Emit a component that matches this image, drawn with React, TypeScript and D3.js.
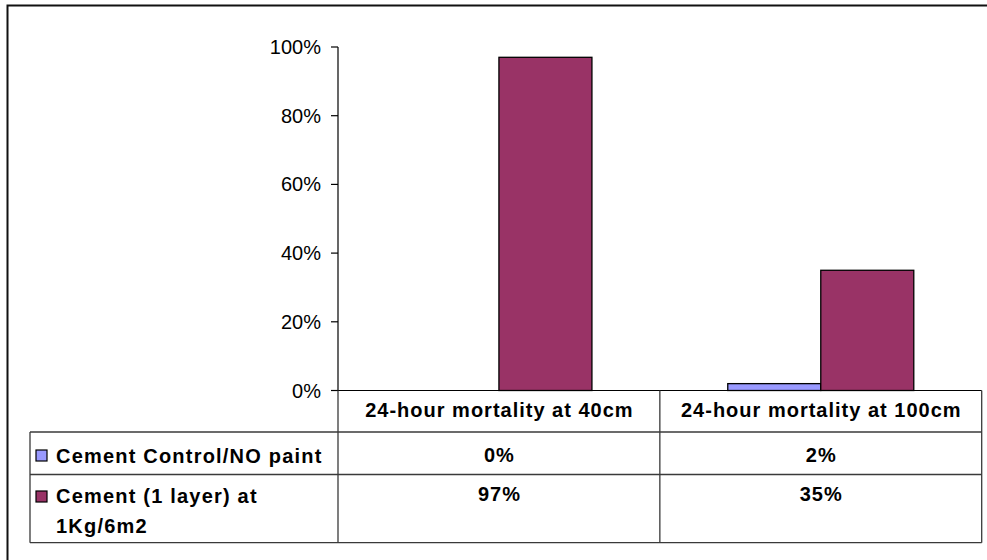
import React from "react";
import * as d3 from "d3";

const categories = ["24-hour mortality at 40cm", "24-hour mortality at 100cm"];
const seriesNames = ["Cement Control/NO paint", "Cement (1 layer) at 1Kg/6m2"];
const seriesLabelLines = [["Cement Control/NO paint"], ["Cement (1 layer) at", "1Kg/6m2"]];
const controlValues = [0, 0.02];
const cementValues = [0.97, 0.35];
const yTicks = [0, 0.2, 0.4, 0.6, 0.8, 1.0];
const seriesColors = ["#9999FF", "#993366"];

const W = 987;
const H = 560;
const FONT = "Arial, 'Liberation Sans', Helvetica, sans-serif";

export default function App() {
  const plotLeft = 338;
  const plotRight = 981.7;
  const y0 = 390.5;
  const y1 = 47;
  const tableLeft = 30;
  const headerBottom = 432;
  const row1Bottom = 474.5;
  const tableBottom = 542.7;

  const x = d3.scaleBand<string>().domain(categories).range([plotLeft, plotRight]).paddingInner(0).paddingOuter(0);
  const bw = x.bandwidth();
  const barW = bw * 0.289;
  const gap = bw - 2 * barW;
  const xs = d3.scaleBand<string>().domain(seriesNames).range([gap / 2, bw - gap / 2]);
  const y = d3.scaleLinear().domain([0, 1]).range([y0, y1]);
  const pct = d3.format(".0%");

  const allValues = [controlValues, cementValues];
  const lineColor = "#3a3a3a";
  const rowBaselines = [[462.5], [503, 533]];
  const valueBaselines = [461.5, 501];
  const squareTops = [450, 491];

  return (
    <div style={{ position: "fixed", left: 0, top: 0 }}>
      <svg width={W} height={H} style={{ display: "block", background: "#fff" }} fontFamily={FONT}>
        <rect x={0} y={0} width={W} height={H} fill="#fff" />
        {/* outer chart border */}
        <rect x={7.5} y={5.5} width={1000} height={600} fill="none" stroke="#111" strokeWidth={2} />

        {/* y axis */}
        <line x1={plotLeft} x2={plotLeft} y1={y1} y2={y0} stroke="#000" strokeWidth={1.2} />
        {yTicks.map((t) => (
          <g key={t}>
            <line x1={plotLeft - 7} x2={plotLeft} y1={y(t)} y2={y(t)} stroke="#000" strokeWidth={1.2} />
            <text x={321} y={y(t) + 7} textAnchor="end" fontSize={20} fill="#000">
              {pct(t)}
            </text>
          </g>
        ))}

        {/* bars */}
        {categories.map((c, ci) => (
          <g key={c} transform={`translate(${x(c)},0)`}>
            {seriesNames.map((s, si) => {
              const v = allValues[si][ci];
              if (v <= 0) return null;
              return (
                <rect
                  key={s}
                  x={xs(s)}
                  y={y(v)}
                  width={xs.bandwidth()}
                  height={y0 - y(v)}
                  fill={seriesColors[si]}
                  stroke="#000"
                  strokeWidth={1.3}
                />
              );
            })}
          </g>
        ))}

        {/* x axis line / table top */}
        <line x1={plotLeft - 7} x2={plotRight} y1={y0} y2={y0} stroke="#000" strokeWidth={1.2} />

        {/* table grid */}
        <g stroke={lineColor} strokeWidth={1.3}>
          <line x1={plotLeft} x2={plotLeft} y1={y0} y2={tableBottom} />
          {categories.map((c) => (
            <line key={c} x1={(x(c) as number) + bw} x2={(x(c) as number) + bw} y1={y0} y2={tableBottom} />
          ))}
          <line x1={tableLeft} x2={tableLeft} y1={headerBottom} y2={tableBottom} />
          <line x1={tableLeft} x2={plotRight} y1={headerBottom} y2={headerBottom} />
          <line x1={tableLeft} x2={plotRight} y1={row1Bottom} y2={row1Bottom} />
          <line x1={tableLeft} x2={plotRight} y1={tableBottom} y2={tableBottom} />
        </g>

        {/* header labels */}
        {categories.map((c) => (
          <text
            key={c}
            x={(x(c) as number) + bw / 2 + 0.5}
            y={417}
            textAnchor="middle"
            fontSize={20}
            fontWeight="bold"
            letterSpacing={1}
            fill="#000"
          >
            {c}
          </text>
        ))}

        {/* legend rows */}
        {seriesNames.map((s, si) => (
          <g key={s}>
            <rect x={36} y={squareTops[si]} width={11} height={11} fill={seriesColors[si]} stroke="#000" strokeWidth={1.2} />
            {seriesLabelLines[si].map((ln, li) => (
              <text key={li} x={56} y={rowBaselines[si][li]} fontSize={20} fontWeight="bold" letterSpacing={1.2} fill="#000">
                {ln}
              </text>
            ))}
            {categories.map((c, ci) => (
              <text
                key={c}
                x={(x(c) as number) + bw / 2 + 0.5}
                y={valueBaselines[si]}
                textAnchor="middle"
                fontSize={20}
                fontWeight="bold"
                letterSpacing={1}
                fill="#000"
              >
                {pct(allValues[si][ci])}
              </text>
            ))}
          </g>
        ))}
      </svg>
    </div>
  );
}
